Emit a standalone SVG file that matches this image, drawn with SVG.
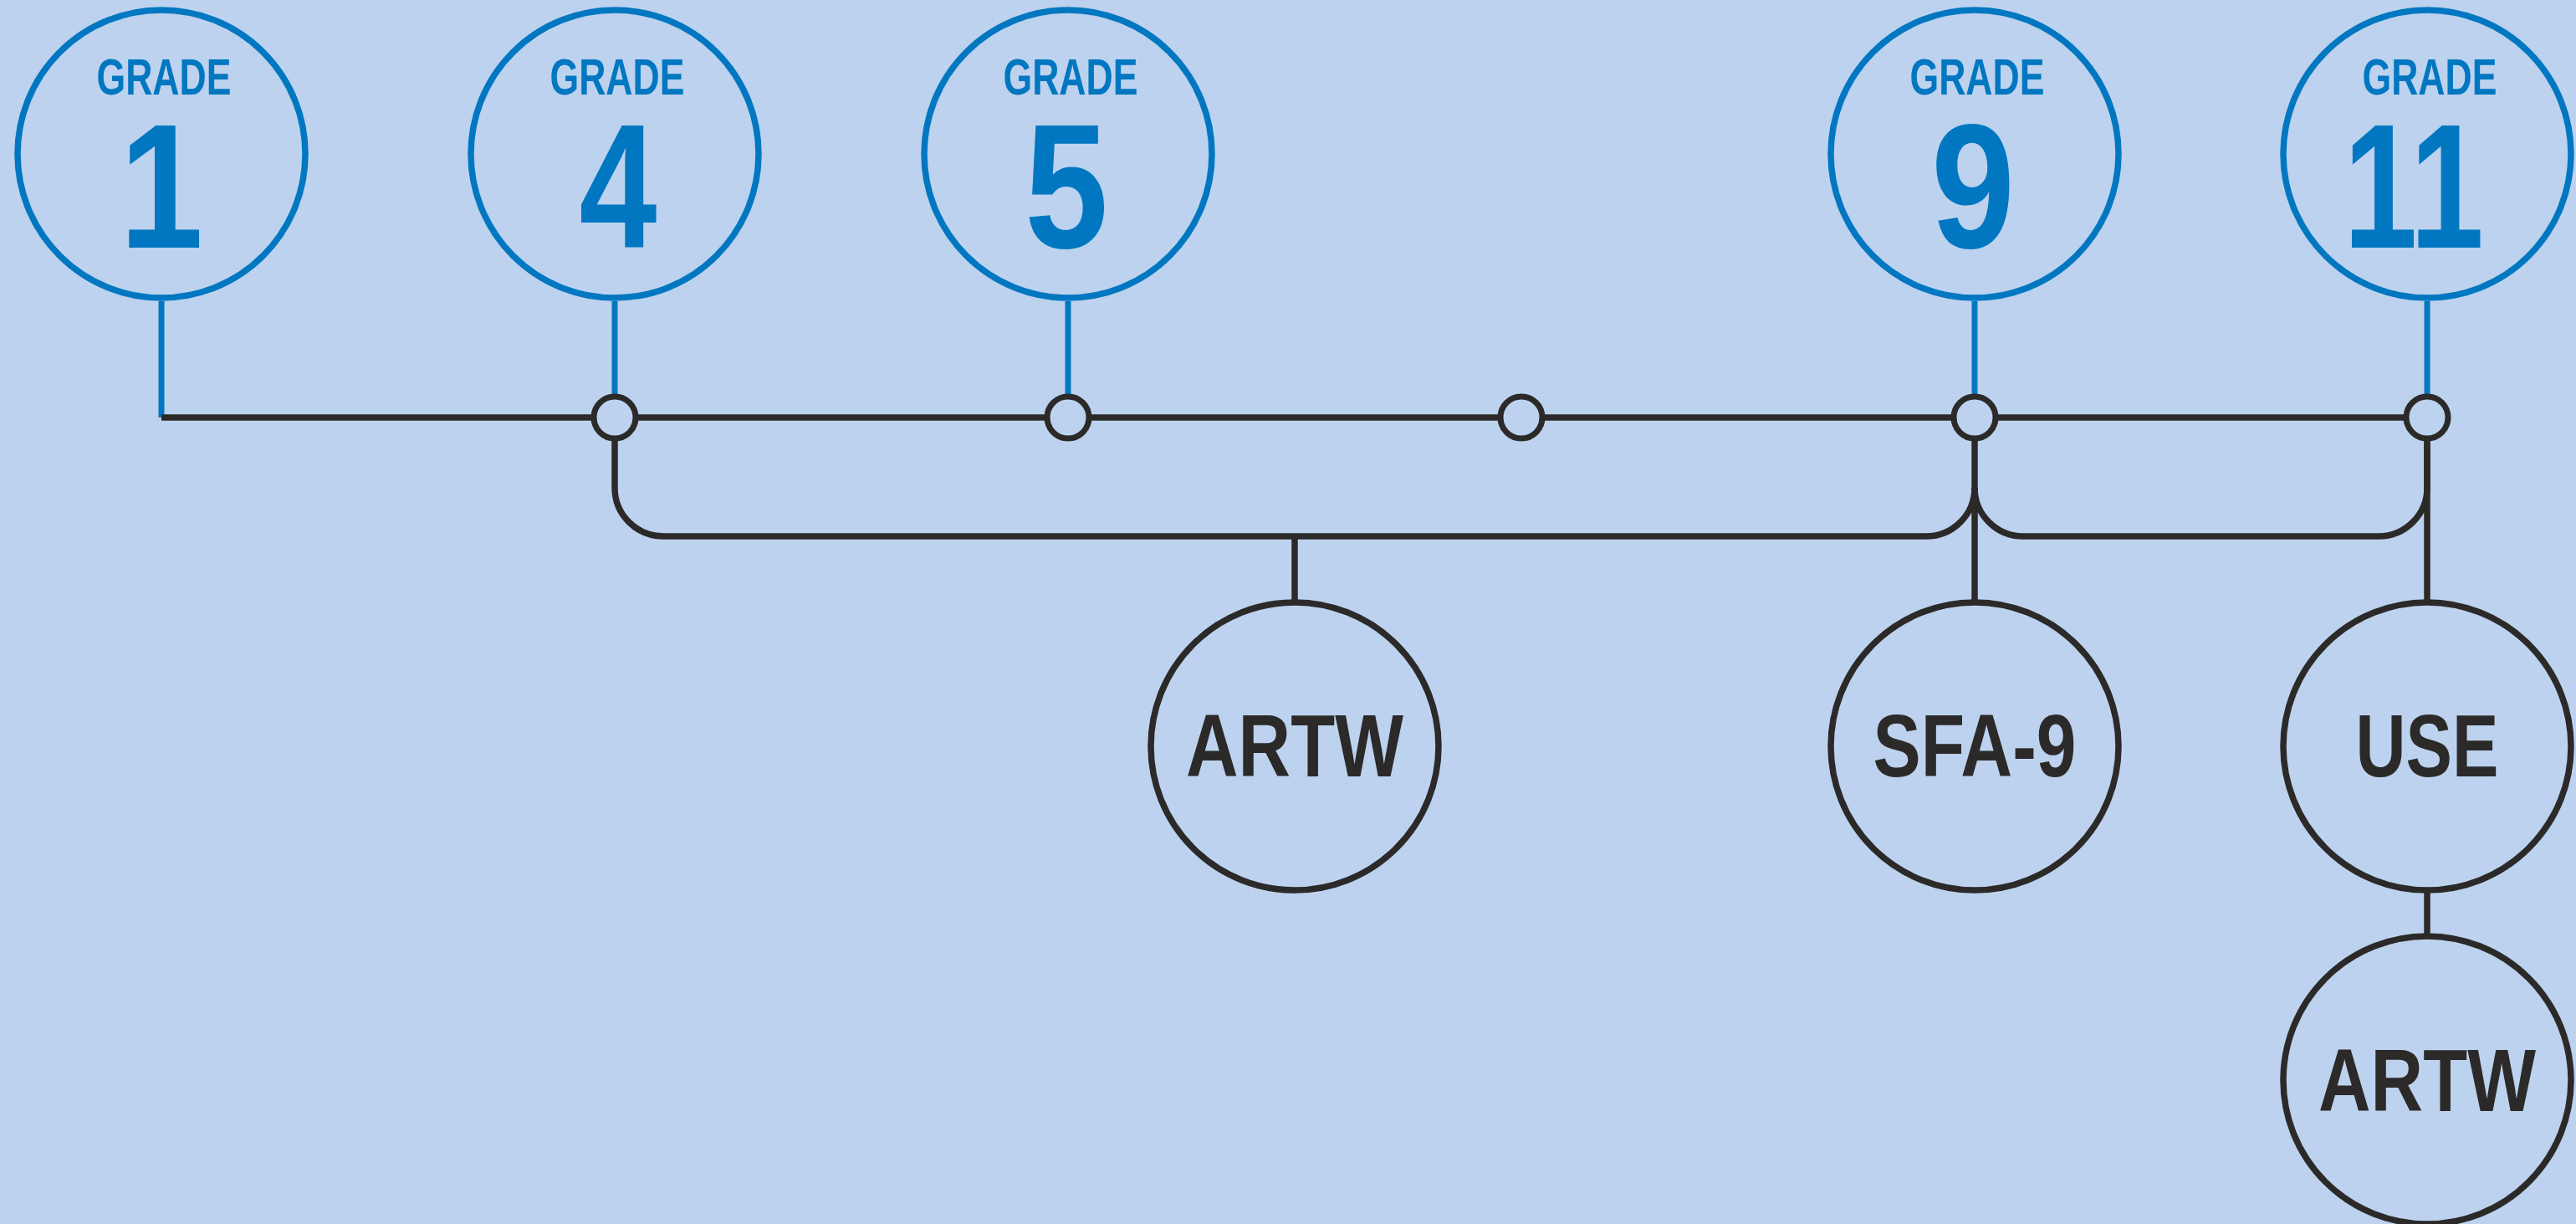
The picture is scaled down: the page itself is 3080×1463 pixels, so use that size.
<svg xmlns="http://www.w3.org/2000/svg" width="3080" height="1463" viewBox="0 0 3080 1463">
<style>
.bg{fill:#bdd2ee}
.gc{fill:none;stroke:#0077c0;stroke-width:7.5}
.bc{fill:none;stroke:#2b2a29;stroke-width:7.5}
.bl{fill:none;stroke:#0077c0;stroke-width:7}
.k{fill:none;stroke:#2b2a29;stroke-width:7.5}
.jn{fill:#bdd2ee;stroke:#2b2a29;stroke-width:7}
.gt{font-family:"Liberation Sans",Arial,sans-serif;font-weight:bold;fill:#0077c0;text-anchor:middle}
.g{font-size:61px}
.d{font-size:211px}
.lt{font-family:"Liberation Sans",Arial,sans-serif;font-weight:bold;font-size:106px;fill:#2b2a29;text-anchor:middle}
</style>
<rect class="bg" x="0" y="0" width="3080" height="1463"/>
<g id="connectors">
<line class="bl" x1="193" y1="360" x2="193" y2="499"/>
<line class="bl" x1="735" y1="360" x2="735" y2="474"/>
<line class="bl" x1="1277" y1="360" x2="1277" y2="474"/>
<line class="bl" x1="2361" y1="360" x2="2361" y2="474"/>
<line class="bl" x1="2902" y1="360" x2="2902" y2="474"/>
<line class="k" x1="193" y1="499" x2="2877" y2="499"/>
<path class="k" d="M735 524 V583 A58 58 0 0 0 793 641 H2303 A58 58 0 0 0 2361 583"/>
<path class="k" d="M2361 583 A58 58 0 0 0 2419 641 H2844 A58 58 0 0 0 2902 583 V524"/>
<line class="k" x1="1548" y1="641" x2="1548" y2="720"/>
<line class="k" x1="2361" y1="524" x2="2361" y2="720"/>
<line class="k" x1="2902" y1="524" x2="2902" y2="720"/>
<line class="k" x1="2902" y1="1064" x2="2902" y2="1119"/>
</g>
<g id="junctions">
<circle class="jn" cx="735" cy="499" r="25"/>
<circle class="jn" cx="1277" cy="499" r="25"/>
<circle class="jn" cx="1819" cy="499" r="25"/>
<circle class="jn" cx="2361" cy="499" r="25"/>
<circle class="jn" cx="2902" cy="499" r="25"/>
</g>
<g id="grade1">
<circle class="gc" cx="193" cy="184" r="172"/>
<text class="gt g" x="196" y="113" textLength="161" lengthAdjust="spacingAndGlyphs">GRADE</text>
<text class="gt d" x="193" y="296" textLength="100" lengthAdjust="spacingAndGlyphs">1</text>
</g>
<g id="grade4">
<circle class="gc" cx="735" cy="184" r="172"/>
<text class="gt g" x="738" y="113" textLength="161" lengthAdjust="spacingAndGlyphs">GRADE</text>
<text class="gt d" x="739" y="296" textLength="93" lengthAdjust="spacingAndGlyphs">4</text>
</g>
<g id="grade5">
<circle class="gc" cx="1277" cy="184" r="172"/>
<text class="gt g" x="1280" y="113" textLength="161" lengthAdjust="spacingAndGlyphs">GRADE</text>
<text class="gt d" x="1275" y="296" textLength="100" lengthAdjust="spacingAndGlyphs">5</text>
</g>
<g id="grade9">
<circle class="gc" cx="2361" cy="184" r="172"/>
<text class="gt g" x="2364" y="113" textLength="161" lengthAdjust="spacingAndGlyphs">GRADE</text>
<text class="gt d" x="2359" y="296" textLength="100" lengthAdjust="spacingAndGlyphs">9</text>
</g>
<g id="grade11">
<circle class="gc" cx="2902" cy="184" r="172"/>
<text class="gt g" x="2905" y="113" textLength="161" lengthAdjust="spacingAndGlyphs">GRADE</text>
<text class="gt d" x="2886" y="296" textLength="168" lengthAdjust="spacingAndGlyphs">11</text>
</g>
<g id="artw1">
<circle class="bc" cx="1548" cy="892" r="172"/>
<text class="lt" x="1548" y="928" textLength="260" lengthAdjust="spacingAndGlyphs">ARTW</text>
</g>
<g id="sfa9">
<circle class="bc" cx="2361" cy="892" r="172"/>
<text class="lt" x="2361" y="928" textLength="243" lengthAdjust="spacingAndGlyphs">SFA-9</text>
</g>
<g id="use">
<circle class="bc" cx="2902" cy="892" r="172"/>
<text class="lt" x="2902" y="928" textLength="171" lengthAdjust="spacingAndGlyphs">USE</text>
</g>
<g id="artw2">
<circle class="bc" cx="2902" cy="1291" r="172"/>
<text class="lt" x="2902" y="1328" textLength="260" lengthAdjust="spacingAndGlyphs">ARTW</text>
</g>
</svg>
